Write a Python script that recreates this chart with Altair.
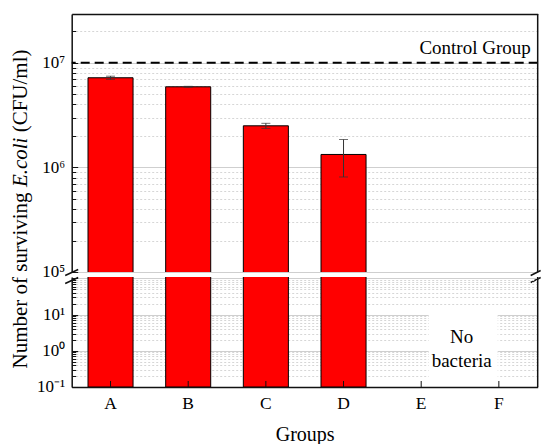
import altair as alt
import pandas as pd

# ---------------- data ----------------
groups = ["A", "B", "C", "D", "E", "F"]
survivors = [7.2e6, 5.9e6, 2.5e6, 1.33e6, None, None]
errors = [0.25e6, 0.06e6, 0.14e6, 0.52e6, None, None]
control_level = [1e7]

upper_major = [1e5, 1e6, 1e7]
upper_major_labels = ["10⁵", "10⁶", "10⁷"]
upper_minor = [2e5, 3e5, 4e5, 5e5, 6e5, 7e5, 8e5, 9e5,
               2e6, 3e6, 4e6, 5e6, 6e6, 7e6, 8e6, 9e6, 2e7]
lower_major = [0.1, 1.0, 10.0, 100.0]
lower_major_labels = ["10⁻¹", "10⁰", "10¹", ""]
lower_minor = [0.2, 0.3, 0.4, 0.5, 0.6, 0.7, 0.8, 0.9,
               2.0, 3.0, 4.0, 5.0, 6.0, 7.0, 8.0, 9.0,
               20.0, 30.0, 40.0, 50.0, 60.0, 70.0, 80.0, 90.0]

df = pd.DataFrame({"group": groups, "value": survivors, "err": errors})
df["lo"] = df["value"] - df["err"]
df["hi"] = df["value"] + df["err"]
ctrl = pd.DataFrame({"level": control_level})
one = pd.DataFrame({"k": [0]})

# ---------------- layout constants ----------------
FONT = "Liberation Serif"
W = 466
HU = 258
HL = 110
GAP = 5
AXC = "#111111"
MAJ_GRID = "#cfcfcf"
MIN_GRID = "#d6d6d6"


def label_expr(vals, labs):
    expr = "''"
    for v, l in zip(vals, labs):
        expr = f"datum.value == {v} ? '{l}' : (" + expr + ")"
    return expr


def major_test(vals):
    return " || ".join(f"datum.value == {v}" for v in vals)


def left_axis(major, labels, minor):
    t = major_test(major)
    return alt.Axis(
        orient="left", values=major + minor, labelExpr=label_expr(major, labels),
        ticks=False, domain=True, domainColor=AXC, domainWidth=1.5,
        grid=True,
        gridColor={"condition": {"test": t, "value": MAJ_GRID}, "value": MIN_GRID},
        gridDash={"condition": {"test": t, "value": []}, "value": [2, 2]},
        gridWidth=1, labelFont=FONT, labelFontSize=17, labelPadding=7, labelColor="#000",
        labelFlush=False, labelOverlap=False, title=None,
    )


def tick_axis(major, minor):
    t = major_test(major)
    return alt.Axis(
        orient="right", offset=-W, values=major + minor, labels=False,
        domain=False, grid=False, ticks=True,
        tickSize={"condition": {"test": t, "value": 6}, "value": 4},
        tickColor=AXC, tickWidth=1, title=None,
    )


xscale = alt.Scale(domain=groups, paddingInner=0.42)
yscale_u = alt.Scale(type="log", domain=[1e5, 2.93e7], nice=False)
yscale_l = alt.Scale(type="log", domain=[0.1, 110], nice=False)

x_top = alt.X("group:N", scale=xscale, axis=alt.Axis(
    orient="top", labels=False, ticks=False, domain=True, domainColor=AXC,
    domainWidth=1.5, title=None, grid=False))

x_bottom = alt.X("group:N", scale=xscale, axis=alt.Axis(
    orient="bottom", labels=True, ticks=False, domain=True, domainColor=AXC,
    domainWidth=1.5, title="Groups", titleFont=FONT, titleFontSize=20,
    titleFontWeight="normal", titleColor="#000", labelFont=FONT,
    labelFontSize=17.5, labelColor="#000", labelPadding=8,
    labelAngle=0, titlePadding=12, grid=False))

# ---------------- upper panel ----------------
bars_u = alt.Chart(df).mark_bar(color="#ff0000", stroke="#000000", strokeWidth=1, clip=True).encode(
    x=x_top,
    y=alt.Y("value:Q", scale=yscale_u, axis=left_axis(upper_major, upper_major_labels, upper_minor)),
    y2=alt.datum(1e4),
)
err_u = alt.Chart(df).mark_rule(color="#333333", strokeWidth=1).encode(
    x=x_top,
    y=alt.Y("lo:Q", scale=yscale_u, axis=tick_axis(upper_major, upper_minor)),
    y2="hi:Q",
)
caps_u = alt.Chart(df).transform_fold(["lo", "hi"], as_=["end", "ypos"]).mark_tick(
    color="#333333", size=9, thickness=1).encode(
    x=x_top,
    y=alt.Y("ypos:Q", scale=yscale_u, axis=None),
)
control = alt.Chart(ctrl).mark_rule(color="#000000", strokeWidth=2, strokeDash=[9, 5]).encode(
    y=alt.Y("level:Q", scale=yscale_u, axis=None),
)
control_text = alt.Chart(one).mark_text(
    text="Control Group", align="right", baseline="alphabetic", font=FONT,
    fontSize=19, color="#000").encode(x=alt.value(459), y=alt.value(40))
border_u = alt.Chart(one).mark_rule(color=AXC, strokeWidth=1.5).encode(
    x=alt.value(W), y=alt.value(0), y2=alt.value(HU))

title_1 = alt.Chart(one).mark_text(
    text="Number of surviving", angle=270, align="left", baseline="alphabetic",
    font=FONT, fontSize=21, color="#000").encode(x=alt.value(-44.5), y=alt.value(354.5))
title_2 = alt.Chart(one).mark_text(
    text="E.coli", angle=270, align="left", baseline="alphabetic", fontStyle="italic",
    font=FONT, fontSize=21, color="#000").encode(x=alt.value(-44.5), y=alt.value(173.1))
title_3 = alt.Chart(one).mark_text(
    text="(CFU/ml)", angle=270, align="left", baseline="alphabetic",
    font=FONT, fontSize=21, color="#000").encode(x=alt.value(-44.5), y=alt.value(118.3))


def slash(x1, x2, y1, y2):
    return alt.Chart(one).mark_rule(color=AXC, strokeWidth=1.5).encode(
        x=alt.value(x1), x2=alt.value(x2), y=alt.value(y1), y2=alt.value(y2))


slashes = [
    slash(-6.5, 6.5, 261.5, 255.5),
    slash(-6.5, 6.5, 269.5, 263.5),
    slash(W - 7, W + 3, 261.5, 256.5),
    slash(W - 7, W + 3, 268.5, 263.5),
]

upper = alt.layer(
    bars_u, err_u, caps_u, control, control_text, border_u,
    title_1, title_2, title_3, *slashes,
).resolve_axis(y="independent").properties(width=W, height=HU)

# ---------------- lower panel ----------------
bars_l = alt.Chart(df).mark_bar(color="#ff0000", stroke="#000000", strokeWidth=1, clip=True).encode(
    x=x_bottom,
    y=alt.Y("value:Q", scale=yscale_l, axis=left_axis(lower_major, lower_major_labels, lower_minor)),
    y2=alt.datum(0.1),
)
ticks_l = alt.Chart(df).mark_bar(opacity=0, clip=True).encode(
    x=x_bottom,
    y=alt.Y("value:Q", scale=yscale_l, axis=tick_axis(lower_major, lower_minor)),
    y2=alt.datum(0.1),
)
xticks_l = alt.Chart(df).mark_rule(color=AXC, strokeWidth=1).encode(
    x=x_bottom, y=alt.value(HL - 6), y2=alt.value(HL))
blank = alt.Chart(one).mark_rect(color="#ffffff").encode(
    x=alt.value(357), x2=alt.value(426), y=alt.value(38), y2=alt.value(HL - 1))
nobact = alt.Chart(one).mark_text(
    text="No\nbacteria", lineBreak="\n", lineHeight=24, align="center",
    baseline="alphabetic", font=FONT, fontSize=19, color="#000").encode(
    x=alt.value(390), y=alt.value(66))
border_l = alt.Chart(one).mark_rule(color=AXC, strokeWidth=1.5).encode(
    x=alt.value(W), y=alt.value(0), y2=alt.value(HL))

lower = alt.layer(
    bars_l, ticks_l, xticks_l, blank, nobact, border_l,
).resolve_axis(y="independent").properties(width=W, height=HL)

chart = alt.vconcat(upper, lower, spacing=GAP, bounds="flush").properties(
    padding={"left": 9.7, "top": 13, "right": 0, "bottom": 0}
).configure(font=FONT).configure_view(strokeWidth=0)

chart.save("out.html", embed_options={"renderer": "svg", "actions": False})
